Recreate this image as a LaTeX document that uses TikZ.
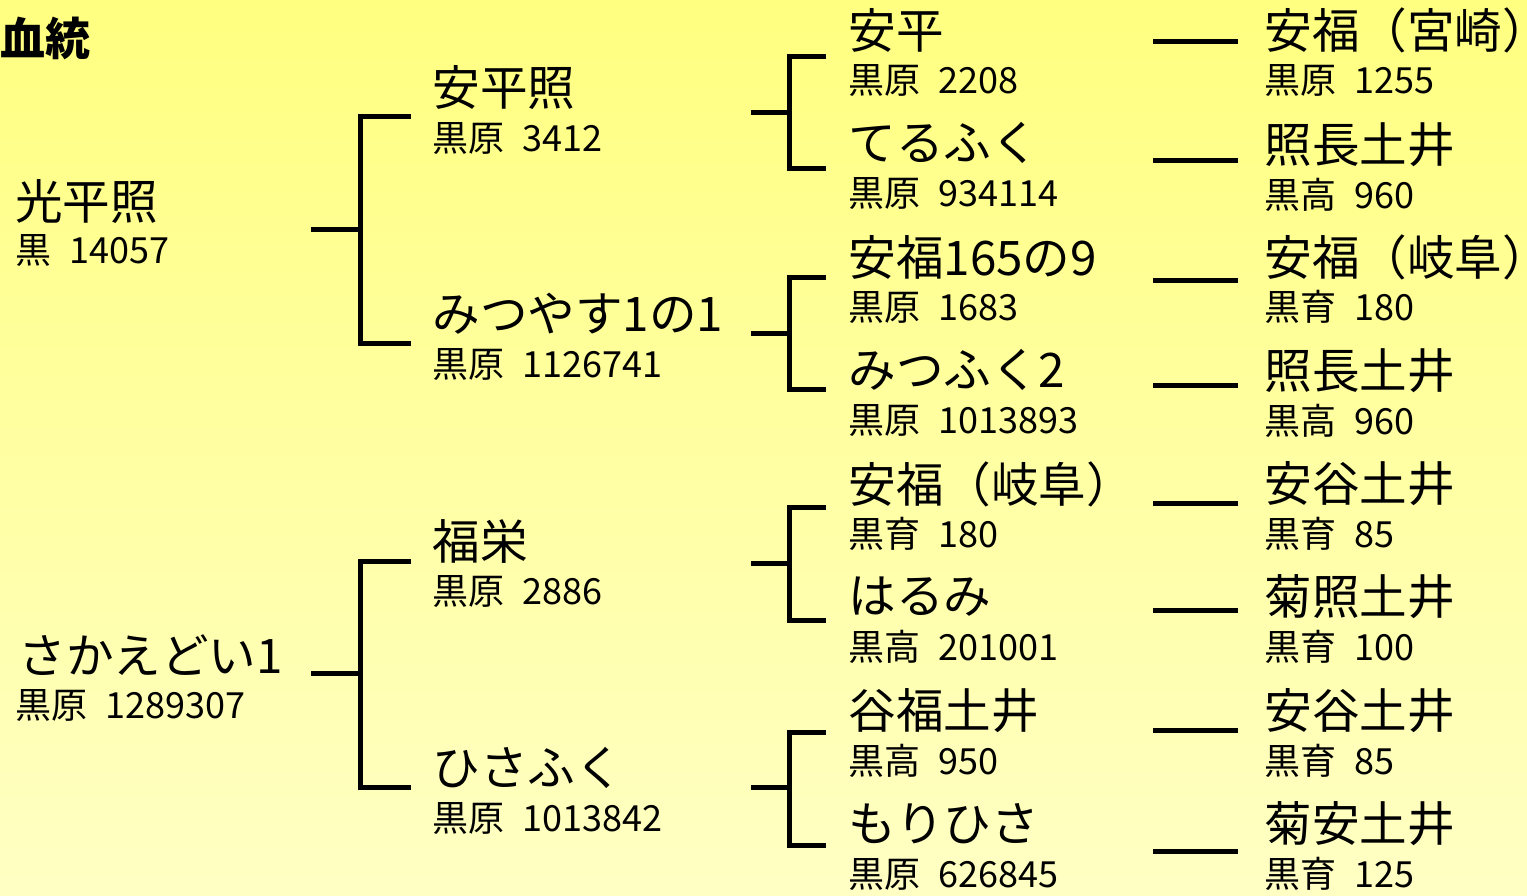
\documentclass[tikz,border=0pt]{standalone}
\usepackage{fontspec}
\setmainfont{Noto Sans CJK JP}
\usepackage{tikz}
\newcommand{\kgap}{\hspace{0.5em}}
\tikzset{
  kettou/.style = {anchor=west, inner sep=0pt, text=black},
  namenode/.style = {kettou, font=\fontsize{23.8}{25}\selectfont},% name of the animal
  regnode/.style = {kettou, font=\fontsize{18}{19}\selectfont},% registration line
  titlenode/.style = {kettou, font=\bfseries\fontsize{22.5}{24}\selectfont},
  bracket/.style = {line width=2.5pt, black}
}
\definecolor{bgtop}{RGB}{255,255,128}
\definecolor{bgbot}{RGB}{255,255,196}

\begin{document}
\begin{tikzpicture}[x=0.5pt, y=-0.5pt]
  \shade[top color=bgtop, bottom color=bgbot] (0,0) rectangle (1527,895);
  \useasboundingbox (0,0) rectangle (1527,895);

  \node [titlenode] (title) at (0,38) {血統};

  % first generation
  \node [namenode] (kohei) at (15,202) {光平照};
  \node [regnode] (kohei-r) at (15,250) {黒\kgap 14057};
  \node [namenode] (sakae) at (18,655) {さかえどい1};
  \node [regnode] (sakae-r) at (15,705) {黒原\kgap 1289307};

  % second generation
  \node [namenode] (yasu) at (432,88) {安平照};
  \node [regnode] (yasu-r) at (432,138) {黒原\kgap 3412};
  \node [namenode] (mitsu) at (432,314) {みつやす1の1};
  \node [regnode] (mitsu-r) at (432,364) {黒原\kgap 1126741};
  \node [namenode] (fuku) at (432,541) {福栄};
  \node [regnode] (fuku-r) at (432,591) {黒原\kgap 2886};
  \node [namenode] (hisa) at (432,768) {ひさふく};
  \node [regnode] (hisa-r) at (432,818) {黒原\kgap 1013842};

  % third generation
  \foreach \k/\y/\nm/\rg in {1/30/安平/黒原\kgap 2208, 2/143/てるふく/黒原\kgap 934114,
      3/257/安福165の9/黒原\kgap 1683, 4/370/みつふく2/黒原\kgap 1013893,
      5/484/安福（岐阜）/黒育\kgap 180, 6/597/はるみ/黒高\kgap 201001,
      7/711/谷福土井/黒高\kgap 950, 8/824/もりひさ/黒原\kgap 626845}{
    \node [namenode] (gc\k) at (848,\y) {\nm};
    \node [regnode] (gc\k-r) at (848,\y+50) {\rg};
  }

  % fourth generation
  \foreach \k/\y/\nm/\rg in {1/30/安福（宮崎）/黒原\kgap 1255, 2/145/照長土井/黒高\kgap 960,
      3/257/安福（岐阜）/黒育\kgap 180, 4/371/照長土井/黒高\kgap 960,
      5/484/安谷土井/黒育\kgap 85, 6/597/菊照土井/黒育\kgap 100,
      7/711/安谷土井/黒育\kgap 85, 8/824/菊安土井/黒育\kgap 125}{
    \node [namenode] (gg\k) at (1264,\y) {\nm};
    \node [regnode] (gg\k-r) at (1264,\y+50) {\rg};
  }

  % brackets
  \foreach \k/\s/\a/\b in {1/229/116/343, 2/673/561/787}{
    \coordinate (sb\k) at (311,\s);
    \coordinate (mb\k) at (360,\s);
    \coordinate (tb\k) at (411,\a);
    \coordinate (ub\k) at (411,\b);
    \draw [bracket] (sb\k) -- (mb\k) (tb\k) -| (mb\k) |- (ub\k);
  }
  \foreach \k/\s/\a/\b in {1/112/56/168, 2/333/277/389, 3/563/507/620, 4/787/732/845}{
    \coordinate (sc\k) at (751,\s);
    \coordinate (mc\k) at (789,\s);
    \coordinate (tc\k) at (826,\a);
    \coordinate (uc\k) at (826,\b);
    \draw [bracket] (sc\k) -- (mc\k) (tc\k) -| (mc\k) |- (uc\k);
  }
  \foreach \k/\y in {1/41, 2/160, 3/280, 4/385, 5/503, 6/610, 7/730, 8/851}{
    \coordinate (dl\k) at (1153,\y);
    \coordinate (dr\k) at (1238,\y);
    \draw [bracket] (dl\k) -- (dr\k);
  }
\end{tikzpicture}
\end{document}
